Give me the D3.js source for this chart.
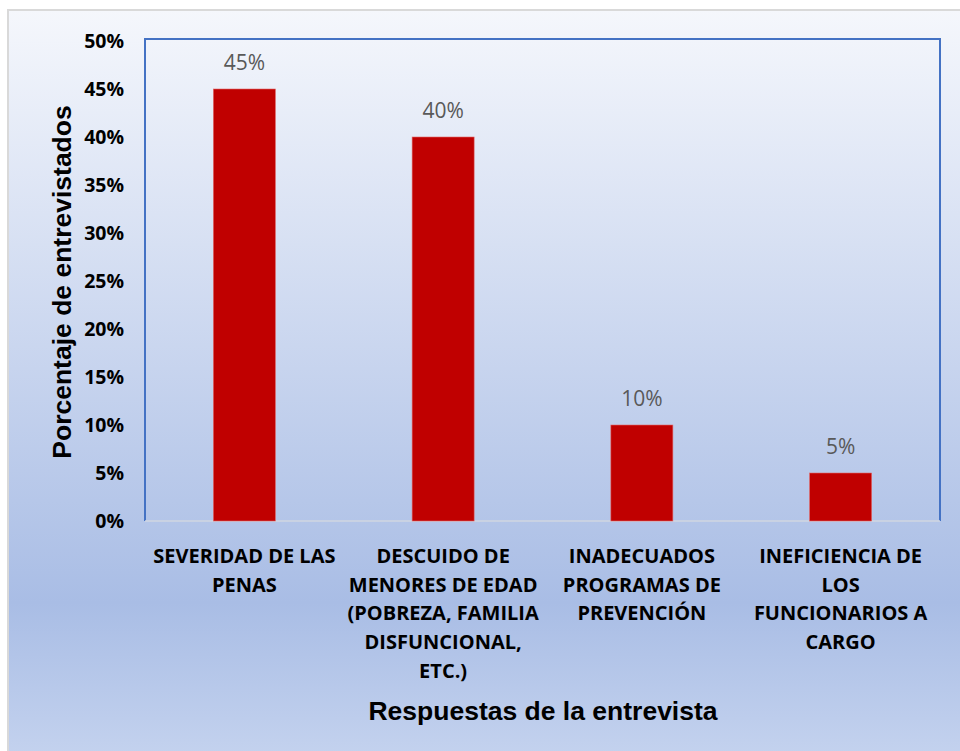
<!DOCTYPE html>
<html>
<head>
<meta charset="utf-8">
<script src="https://cdn.jsdelivr.net/npm/d3@7"></script>
<style>
  body { margin: 0; background: #fff; }
  svg { display: block; }
</style>
</head>
<body>
<svg id="chart" width="960" height="751"></svg>
<script>
// datos del grafico
var categorias = [
  ["SEVERIDAD DE LAS", "PENAS"],
  ["DESCUIDO DE", "MENORES DE EDAD", "(POBREZA, FAMILIA", "DISFUNCIONAL,", "ETC.)"],
  ["INADECUADOS", "PROGRAMAS DE", "PREVENCIÓN"],
  ["INEFICIENCIA DE", "LOS", "FUNCIONARIOS A", "CARGO"]
];
var valores = [45, 40, 10, 5];
var ticksY = [0, 5, 10, 15, 20, 25, 30, 35, 40, 45, 50];

var svg = d3.select("#chart");
var margin = {top: 41, right: 20, bottom: 230, left: 145};
var width = 940 - margin.left,
    height = 521 - margin.top;

// fondo con degradado
var defs = svg.append("defs");
var grad = defs.append("linearGradient")
    .attr("id", "fondo")
    .attr("x1", 0).attr("y1", 0).attr("x2", 0).attr("y2", 1);
grad.append("stop").attr("offset", "0%").attr("stop-color", "#f5f7fc");
grad.append("stop").attr("offset", "78%").attr("stop-color", "#a9bde5");
grad.append("stop").attr("offset", "100%").attr("stop-color", "#c6d4ef");

svg.append("rect")
    .attr("x", 8).attr("y", 10)
    .attr("width", 960).attr("height", 760)
    .attr("fill", "url(#fondo)")
    .attr("stroke", "#d9d9d9")
    .attr("stroke-width", 2);

var x = d3.scaleBand()
    .domain(d3.range(valores.length))
    .range([0, width])
    .paddingInner(0.688)
    .paddingOuter(0.344);

var y = d3.scaleLinear().domain([0, 50]).range([height, 0]);

var g = svg.append("g")
    .attr("transform", "translate(" + margin.left + "," + margin.top + ")");

// marco del area de trazado
g.append("path")
    .attr("d", "M0," + height + "V-2H" + width + "V" + height)
    .attr("fill", "none")
    .attr("stroke", "#4472c4")
    .attr("stroke-width", 2);

// eje Y
var ejeY = g.append("g")
    .call(d3.axisLeft(y).tickValues(ticksY).tickSize(0).tickPadding(21)
      .tickFormat(function (d) { return d + "%"; }));
ejeY.select(".domain").remove();
ejeY.selectAll("text")
    .attr("font-family", "'Open Sans', 'Noto Sans', sans-serif")
    .attr("font-weight", "bold")
    .attr("font-size", 19.5)
    .attr("fill", "#000");

// eje X (linea base)
g.append("line")
    .attr("x1", 0).attr("x2", width)
    .attr("y1", height).attr("y2", height)
    .attr("stroke", "#d0d6e2")
    .attr("stroke-width", 1.5);

// barras
g.selectAll(".bar")
    .data(valores)
  .enter().append("rect")
    .attr("class", "bar")
    .attr("x", function (d, i) { return x(i); })
    .attr("y", function (d) { return y(d); })
    .attr("width", x.bandwidth())
    .attr("height", function (d) { return height - y(d); })
    .attr("fill", "#c00000")
    .attr("stroke", "#e06666")
    .attr("stroke-width", 0.6);

// etiquetas de valores
g.selectAll(".valor")
    .data(valores)
  .enter().append("text")
    .attr("class", "valor")
    .attr("x", function (d, i) { return x(i) + x.bandwidth() / 2; })
    .attr("y", function (d) { return y(d) - 19; })
    .attr("text-anchor", "middle")
    .attr("font-family", "'Open Sans', 'Noto Sans', sans-serif")
    .attr("font-size", 21)
    .attr("fill", "#595959")
    .text(function (d) { return d + "%"; });

// etiquetas de categorias
var cat = g.selectAll(".cat")
    .data(categorias)
  .enter().append("text")
    .attr("class", "cat")
    .attr("text-anchor", "middle")
    .attr("font-family", "'Open Sans', sans-serif")
    .attr("font-weight", "bold")
    .attr("font-size", 20)
    .attr("fill", "#000");
cat.each(function (lineas, i) {
  var t = d3.select(this);
  lineas.forEach(function (l, k) {
    t.append("tspan")
      .attr("x", x(i) + x.bandwidth() / 2)
      .attr("y", height + 42 + k * 28.7)
      .text(l);
  });
});

// titulos de ejes
svg.append("text")
    .attr("x", 543).attr("y", 720)
    .attr("text-anchor", "middle")
    .attr("font-family", "'Liberation Sans', Arial, sans-serif")
    .attr("font-weight", "bold")
    .attr("font-size", 26.5)
    .attr("fill", "#000")
    .text("Respuestas de la entrevista");

svg.append("text")
    .attr("transform", "translate(71,282) rotate(-90)")
    .attr("text-anchor", "middle")
    .attr("font-family", "'Liberation Sans', Arial, sans-serif")
    .attr("font-weight", "bold")
    .attr("font-size", 26.5)
    .attr("fill", "#000")
    .text("Porcentaje de entrevistados");
</script>
</body>
</html>
